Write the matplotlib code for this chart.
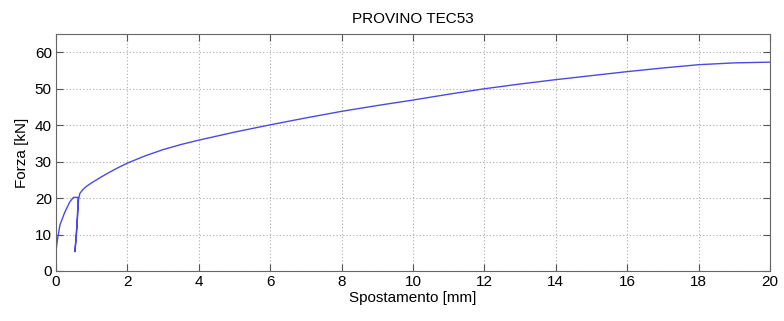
import matplotlib
matplotlib.use("Agg")
import matplotlib.pyplot as plt

plt.rcParams['font.family'] = ['Liberation Sans', 'DejaVu Sans']

# Data
disp = [0.0, 0.02, 0.04, 0.11, 0.25, 0.39, 0.49, 0.55, 0.62,
        0.60, 0.57, 0.54, 0.53, 0.55, 0.58, 0.61, 0.63,
        0.67, 0.75, 0.85, 1.0, 1.25, 1.5, 1.75, 2.0, 2.5, 3.0, 3.5, 4.0, 5.0, 6.0, 7.0,
        8.0, 9.0, 10.0, 11.0, 12.0, 13.0, 14.0, 15.0, 16.0, 17.0, 18.0, 19.0, 20.0]
force = [5.3, 7.0, 8.5, 12.6, 16.2, 19.0, 20.2, 20.2, 20.2,
         15.0, 10.0, 6.5, 5.3, 7.5, 11.2, 16.0, 19.5,
         21.3, 22.3, 23.2, 24.2, 25.7, 27.1, 28.4, 29.6, 31.6, 33.3, 34.7, 35.9, 38.1, 40.1, 42.0,
         43.8, 45.4, 46.9, 48.5, 50.0, 51.3, 52.5, 53.6, 54.7, 55.7, 56.6, 57.1, 57.3]

xticks = list(range(0, 21, 2))
yticks = list(range(0, 61, 10))

fig = plt.figure(figsize=(7.84, 3.21), dpi=100)
ax = fig.add_axes([0.0714, 0.1558, 0.9107, 0.738])
ax.plot(disp, force, color='#4a4ae6', linewidth=1.0)

ax.set_xlim(0, 20)
ax.set_ylim(0, 65)
ax.set_xticks(xticks)
ax.set_yticks(yticks)
ax.tick_params(direction='in', top=True, right=True, labelsize=11, length=5,
               color='#555555', pad=3)
ax.grid(True, linestyle=(0, (1, 2)), color='#aaaaaa', linewidth=0.8)
for s in ax.spines.values():
    s.set_color('#666666')
ax.set_title('PROVINO TEC53', fontsize=11, pad=8)
ax.set_xlabel('Spostamento [mm]', fontsize=11, labelpad=1)
ax.set_ylabel('Forza [kN]', fontsize=11, labelpad=4)

fig.savefig('out.png', dpi=100)
